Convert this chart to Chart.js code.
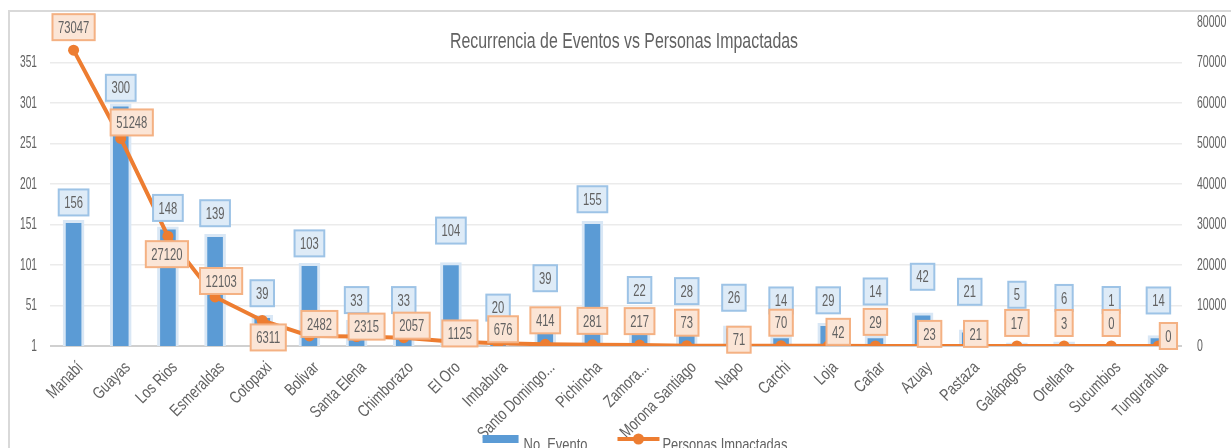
<!DOCTYPE html>
<html>
<head>
<meta charset="utf-8">
<script src="https://cdn.jsdelivr.net/npm/chart.js@4.4.1/dist/chart.umd.min.js"></script>
<style>
  body { margin: 0; background: #fff; }
  canvas { display: block; }
</style>
</head>
<body>
<canvas id="grafico" width="1231" height="448"></canvas>
<script>
const provincias = ["Manabí", "Guayas", "Los Rios", "Esmeraldas", "Cotopaxi", "Bolivar", "Santa Elena",
  "Chimborazo", "El Oro", "Imbabura", "Santo Domingo...", "Pichincha", "Zamora...", "Morona Santiago",
  "Napo", "Carchi", "Loja", "Cañar", "Azuay", "Pastaza", "Galápagos", "Orellana", "Sucumbios", "Tungurahua"];
const eventos = [156, 300, 148, 139, 39, 103, 33, 33, 104, 20, 39, 155, 22, 28, 26, 14, 29, 14, 42, 21, 5, 6, 1, 14];
const personas = [73047, 51248, 27120, 12103, 6311, 2482, 2315, 2057, 1125, 676, 414, 281, 217, 73, 71, 70,
  42, 29, 23, 21, 17, 3, 0, 0];
const ticksEventos = [1, 51, 101, 151, 201, 251, 301, 351];
const ticksPersonas = [0, 10000, 20000, 30000, 40000, 50000, 60000, 70000, 80000];

// label nudges (px, relative to the mark) - Excel labels were moved by hand
const nudgeEventoY = [-18, -16, -19, -21, -22, -20, -20, -20, -32, -23, -37, -22, -39, -33, -28, -35,
  -23, -44, -36, -38, -48, -44, -46, -35];
const nudgePersonaX = [0, 11, -1, 6, 6, 10, 10, 8, 9, 5, 0, 0, 0, 0, 5, 0, 10, 0, 7, 6, 0, 0, 0, 10];
const nudgePersonaY = [-23, -16, 18, -16, 17, -12, -10, -12, -8, -14, -24, -24, -24, -23, -6, -23, -14,
  -24, -12, -12, -23, -23, -23, -10];

const FONT = "'Liberation Sans', Arial, sans-serif";
const GRIS = '#626262';

// the original uses a tall condensed font: squeeze a regular one horizontally
function texto(ctx, t, x, y, size, sx, align, rot) {
  ctx.save();
  ctx.translate(x, y);
  if (rot) ctx.rotate(rot);
  ctx.scale(sx, 1);
  ctx.font = size + 'px ' + FONT;
  ctx.textAlign = align;
  ctx.textBaseline = 'middle';
  ctx.fillStyle = GRIS;
  ctx.fillText(t, 0, 0);
  ctx.restore();
}

function caja(ctx, t, cx, cy, fondo, borde) {
  ctx.font = '17px ' + FONT;
  const w = ctx.measureText(t).width * 0.66 + 11;
  const h = 26;
  ctx.fillStyle = fondo;
  ctx.fillRect(cx - w / 2, cy - h / 2, w, h);
  ctx.strokeStyle = borde;
  ctx.lineWidth = 2;
  ctx.strokeRect(cx - w / 2, cy - h / 2, w, h);
  texto(ctx, t, cx, cy + 1, 17, 0.66, 'center');
}

const extras = {
  id: 'extras',
  beforeDraw(chart) {
    const ctx = chart.ctx;
    ctx.save();
    ctx.fillStyle = '#fff';
    ctx.fillRect(0, 0, chart.width, chart.height);
    ctx.strokeStyle = '#d9d9d9';
    ctx.lineWidth = 2;
    ctx.beginPath();
    ctx.moveTo(9, chart.height + 5);
    ctx.lineTo(9, 11);
    ctx.lineTo(chart.width + 5, 11);
    ctx.stroke();
    ctx.restore();
  },
  afterDatasetsDraw(chart) {
    const ctx = chart.ctx;
    ctx.save();
    chart.getDatasetMeta(0).data.forEach((bar, i) => {
      caja(ctx, String(eventos[i]), bar.x, bar.y + nudgeEventoY[i], '#deebf7', '#9dc3e6');
    });
    chart.getDatasetMeta(1).data.forEach((pt, i) => {
      caja(ctx, String(personas[i]), pt.x + nudgePersonaX[i], pt.y + nudgePersonaY[i], '#fbe5d6', '#f4b183');
    });
    ctx.restore();
  },
  afterDraw(chart) {
    const ctx = chart.ctx;
    const area = chart.chartArea;
    const { x, y, y1 } = chart.scales;
    ctx.save();

    // axis labels
    ticksEventos.forEach(v => texto(ctx, String(v), area.left - 13, y.getPixelForValue(v), 17, 0.6, 'right'));
    ticksPersonas.forEach(v => texto(ctx, String(v), area.right + 15, y1.getPixelForValue(v), 17, 0.62, 'left'));
    provincias.forEach((p, i) => {
      texto(ctx, p, x.getPixelForValue(i) + 7, area.bottom + 19, 17, 0.77, 'right', -Math.PI / 4);
    });

    // title
    const titulo = 'Recurrencia de Eventos vs Personas Impactadas';
    ctx.font = '22px ' + FONT;
    const sxT = 348 / ctx.measureText(titulo).width;
    texto(ctx, titulo, (area.left + area.right) / 2 + 8, 42, 22, sxT, 'center');

    // legend
    const cx = (area.left + area.right) / 2 + 19;
    const ly = chart.height - 9;
    const t1 = 'No. Evento', t2 = 'Personas Impactadas';
    ctx.font = '17px ' + FONT;
    const w1 = ctx.measureText(t1).width * 0.76, w2 = ctx.measureText(t2).width * 0.76;
    const total = 36 + 5 + w1 + 30 + 42 + 3 + w2;
    let lx = cx - total / 2;
    ctx.fillStyle = '#5b9bd5';
    ctx.fillRect(lx, ly - 4, 36, 8);
    lx += 41;
    texto(ctx, t1, lx, ly + 6, 17, 0.76, 'left');
    lx += w1 + 30;
    ctx.strokeStyle = '#ed7d31';
    ctx.lineWidth = 4;
    ctx.beginPath();
    ctx.moveTo(lx, ly);
    ctx.lineTo(lx + 42, ly);
    ctx.stroke();
    ctx.fillStyle = '#ed7d31';
    ctx.beginPath();
    ctx.arc(lx + 21, ly, 5.5, 0, Math.PI * 2);
    ctx.fill();
    lx += 45;
    texto(ctx, t2, lx, ly + 6, 17, 0.76, 'left');
    ctx.restore();
  }
};

new Chart(document.getElementById('grafico'), {
  type: 'bar',
  data: {
    labels: provincias,
    datasets: [{
      type: 'bar',
      label: 'No. Evento',
      data: eventos,
      yAxisID: 'y',
      backgroundColor: '#5b9bd5',
      borderColor: '#d9e7f5',
      borderWidth: 3,
      barThickness: 21,
      order: 2
    }, {
      type: 'line',
      label: 'Personas Impactadas',
      data: personas,
      yAxisID: 'y1',
      borderColor: '#ed7d31',
      backgroundColor: '#ed7d31',
      borderWidth: 4,
      pointRadius: 5.5,
      pointBorderWidth: 0,
      tension: 0,
      order: 1
    }]
  },
  options: {
    responsive: false,
    animation: false,
    layout: { padding: { top: 22, left: 0, right: 0, bottom: 0 } },
    plugins: {
      legend: { display: false },
      title: { display: false },
      tooltip: { enabled: false }
    },
    scales: {
      x: {
        grid: { display: false },
        border: { display: false },
        ticks: { display: false },
        afterFit(s) { s.height = 102; }
      },
      y: {
        position: 'left',
        min: 1,
        max: 401,
        afterBuildTicks(s) { s.ticks = ticksEventos.map(v => ({ value: v })); },
        grid: {
          color: c => c.tick.value === 1 ? '#d0d0d0' : '#ebebeb',
          lineWidth: c => c.tick.value === 1 ? 2 : 1.5,
          drawTicks: false
        },
        border: { display: false },
        ticks: { display: false },
        afterFit(s) { s.width = 50; }
      },
      y1: {
        position: 'right',
        min: 0,
        max: 80000,
        afterBuildTicks(s) { s.ticks = ticksPersonas.map(v => ({ value: v })); },
        grid: { display: false, drawTicks: false },
        border: { display: false },
        ticks: { display: false },
        afterFit(s) { s.width = 49; }
      }
    }
  },
  plugins: [extras]
});
</script>
</body>
</html>
